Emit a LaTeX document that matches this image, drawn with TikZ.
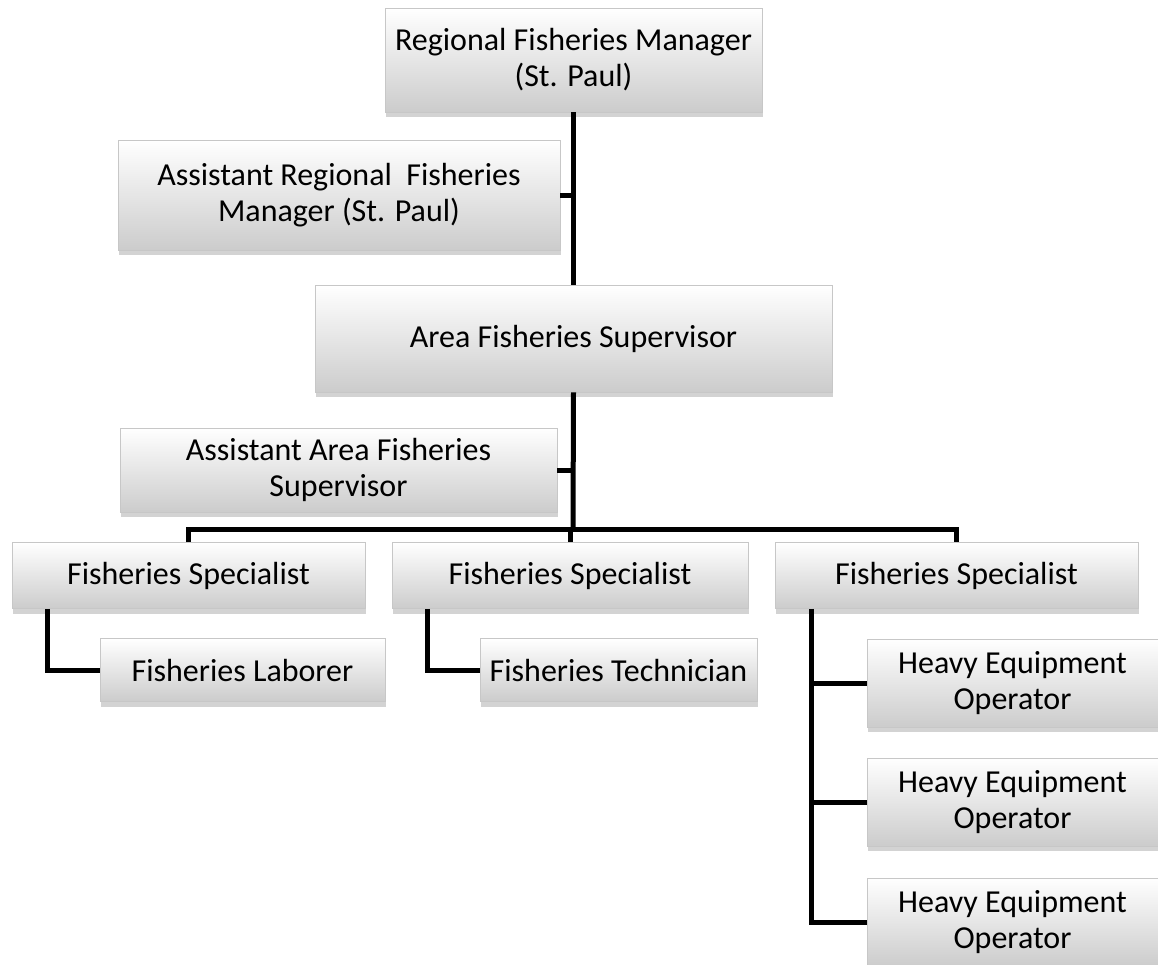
\documentclass[tikz,border=0pt]{standalone}
\usepackage{fontspec}
\setmainfont{Carlito}
\usepackage{tikz}
\usetikzlibrary{shadows}

\begin{document}
\begin{tikzpicture}[x=0.5pt,y=-0.5pt,
  post/.style={rectangle,draw=black!22,line width=0.4pt,top color=white,bottom color=black!20,
    align=center,inner sep=0pt,font=\fontsize{16}{18}\selectfont,
    drop shadow={shadow xshift=0.5pt,shadow yshift=-2.5pt,opacity=0.35}},
  link/.style={line width=2.5pt,draw=black}]
\useasboundingbox (0,0) rectangle (1158,965);
\node[post,minimum width=188.5pt,minimum height=52pt] (rfm) at (573.5,60) {Regional Fisheries Manager\\(St. Paul)};
\node[post,minimum width=221pt,minimum height=55pt] (arfm) at (339,195) {Assistant Regional~ Fisheries\\Manager (St. Paul)};
\node[post,minimum width=258.5pt,minimum height=53.5pt] (afs) at (573.5,338.5) {Area Fisheries Supervisor};
\node[post,minimum width=218.5pt,minimum height=42pt] (aafs) at (338.5,470) {Assistant Area Fisheries\\Supervisor};
\node[post,minimum width=176.5pt,minimum height=33pt] (fs1) at (188.5,575.5) {Fisheries Specialist};
\node[post,minimum width=178pt,minimum height=33pt] (fs2) at (570,575.5) {Fisheries Specialist};
\node[post,minimum width=181.5pt,minimum height=33pt] (fs3) at (956.5,575.5) {Fisheries Specialist};
\node[post,minimum width=142.5pt,minimum height=31.5pt] (fl) at (242.5,670) {Fisheries Laborer};
\node[post,minimum width=138.5pt,minimum height=31.5pt] (ft) at (618.5,670) {Fisheries Technician};
\node[post,minimum width=145.5pt,minimum height=44pt] (heo1) at (1012.5,683) {Heavy Equipment\\Operator};
\node[post,minimum width=145.5pt,minimum height=44pt] (heo2) at (1012.5,802) {Heavy Equipment\\Operator};
\node[post,minimum width=145.5pt,minimum height=44pt] (heo3) at (1012.5,922) {Heavy Equipment\\Operator};
\draw[link] (rfm.south) -- (afs.north);
\draw[link] (arfm.east) -- (arfm.east -| afs.north);
\coordinate (bus) at (573,529);
\draw[link] (afs.south) -- (bus);
\draw[link] (aafs.east) -- (aafs.east -| bus);
\draw[link] (fs1.north) -- (fs1.north |- bus) -- (fs3.north |- bus) -- (fs3.north);
\draw[link] (fs2.north |- bus) -- (fs2.north);
\draw[link] (fs1.south west) ++(36,0) |- (fl.west);
\draw[link] (fs2.south west) ++(36,0) |- (ft.west);
\draw[link] (fs3.south west) ++(37,0) coordinate (spine) |- (heo3.west);
\draw[link] (spine |- heo1.west) -- (heo1.west);
\draw[link] (spine |- heo2.west) -- (heo2.west);
\end{tikzpicture}
\end{document}
